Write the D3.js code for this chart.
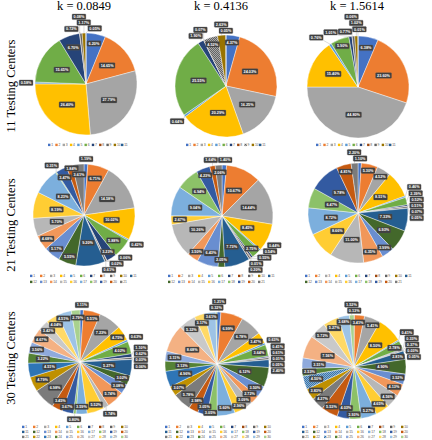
<!DOCTYPE html>
<html><head><meta charset="utf-8">
<script src="https://cdn.jsdelivr.net/npm/d3@7"></script>
<style>body{margin:0;background:#fff}svg{display:block}</style>
</head><body>
<svg id="c" width="432" height="440"></svg>
<script>
// ---------- data ----------
const kLabels = ["k = 0.0849", "k = 0.4136", "k = 1.5614"];
const rowLabels = ["11 Testing Centers", "21 Testing Centers", "30 Testing Centers"];

const centers11 = ["1","2","3","4","5","6","7","8","9","10","11"];
const centers21 = ["1","2","3","4","5","6","7","8","9","10","11","12","13","14","15","16","17","18","19","20","21"];
const centers30 = ["1","2","3","4","5","6","7","8","9","10","11","12","13","14","15","16","17","18","19","20","21","22","23","24","25","26","27","28","29","30"];

// share of demand per testing center (%)
const share11_k0849 = [6.20, 14.65, 27.79, 26.40, 0.58, 15.65, 6.70, 0.08, 0.72, 1.17, 0.05];
const share11_k4136 = [4.37, 24.03, 16.25, 20.29, 0.64, 25.55, 1.90, 0.07, 4.52, 2.63, 0.05];
const share11_k15614 = [6.38, 23.60, 44.80, 15.40, 0.76, 5.90, 1.01, 0.06, 0.77, 1.02, 0.01];

const share21_k0849 = [1.19, 6.71, 14.58, 10.02, 0.42, 5.88, 3.23, 0.06, 0.61, 0.02, 9.20, 5.55, 5.17, 4.68, 5.70, 8.19, 8.23, 0.31, 3.47, 1.84, 3.61];
const share21_k4136 = [1.40, 10.67, 14.44, 8.45, 0.44, 2.75, 0.54, 0.20, 0.55, 0.01, 7.73, 2.05, 6.43, 3.50, 10.26, 2.67, 9.04, 6.94, 4.23, 1.64, 2.06];
const share21_k15614 = [1.10, 5.30, 4.52, 8.51, 0.46, 2.39, 0.51, 0.05, 0.52, 0.07, 7.33, 6.93, 3.99, 6.35, 11.00, 8.66, 8.72, 6.47, 9.78, 4.81, 2.20];

const share30_k0849 = [1.11, 5.51, 7.23, 4.75, 0.63, 4.02, 1.10, 0.06, 0.62, 0.03, 5.27, 3.02, 3.08, 5.74, 1.74, 5.52, 3.59, 0.80, 3.67, 3.45, 6.98, 4.79, 4.51, 3.22, 3.56, 4.67, 3.42, 4.04, 4.51, 2.79];
const share30_k4136 = [1.21, 6.99, 6.78, 3.47, 0.63, 3.64, 0.41, 0.05, 0.61, 0.01, 2.40, 6.12, 3.50, 2.72, 3.09, 2.96, 5.60, 3.05, 3.05, 2.98, 5.78, 3.07, 4.96, 3.13, 3.11, 8.68, 5.32, 3.17, 3.61, 0.32];
const share30_k15614 = [0.13, 3.41, 5.41, 8.50, 0.41, 2.78, 0.33, 0.05, 0.37, 0.03, 2.81, 4.90, 3.52, 4.13, 4.56, 4.65, 5.27, 3.93, 4.03, 5.53, 4.27, 3.83, 4.50, 2.53, 3.51, 7.56, 5.72, 5.27, 3.68, 1.52];

// ---------- styling / layout ----------
const palette = ["#4472C4","#ED7D31","#A5A5A5","#FFC000","#5B9BD5","#70AD47","#264478","#9E480E","#636363","#997300",
  "#255E91","#43682B","#698ED0","#F1975A","#B7B7B7","#FFCD33","#7CAFDD","#8CC168","#335AA1","#C55A11",
  "#7B7B7B","#BF9000","#2E75B6","#548235","#8FAADC","#F4B183","#C9C9C9","#FFD966","#9DC3E6","#A9D18E"];

const charts = [
  {cats: centers11, vals: share11_k0849,  cx: 86,  cy: 84,  r: 51, thr: 1.9, dotted: []},
  {cats: centers11, vals: share11_k4136,  cx: 226, cy: 86,  r: 51, thr: 3.0, dotted: [8]},
  {cats: centers11, vals: share11_k15614, cx: 358, cy: 87,  r: 51, thr: 3.0, dotted: []},
  {cats: centers21, vals: share21_k0849,  cx: 84,  cy: 215, r: 51, thr: 1.5, dotted: []},
  {cats: centers21, vals: share21_k4136,  cx: 222, cy: 216, r: 51, thr: 1.9, dotted: []},
  {cats: centers21, vals: share21_k15614, cx: 358, cy: 213, r: 50, thr: 2.5, dotted: []},
  {cats: centers30, vals: share30_k0849,  cx: 80,  cy: 362, r: 52, thr: 2.0, dotted: []},
  {cats: centers30, vals: share30_k4136,  cx: 217, cy: 364, r: 52, thr: 2.5, dotted: []},
  {cats: centers30, vals: share30_k15614, cx: 354, cy: 367, r: 52, thr: 2.0, dotted: [22]}
];
const legendLayout = [
  {x: 48,  y: 145, per: 11, dx: 7.3, dy: 6},
  {x: 186, y: 145, per: 11, dx: 7.3, dy: 6},
  {x: 316, y: 145, per: 11, dx: 7.3, dy: 6},
  {x: 30,  y: 276, per: 11, dx: 10,  dy: 6},
  {x: 168, y: 276, per: 11, dx: 10,  dy: 6},
  {x: 305, y: 276, per: 11, dx: 10,  dy: 6},
  {x: 22,  y: 427, per: 10, dx: 11,  dy: 5},
  {x: 165, y: 427, per: 10, dx: 11,  dy: 5},
  {x: 302, y: 427, per: 10, dx: 11,  dy: 5}
];

const svg = d3.select("#c");
const defs = svg.append("defs");
function dotPattern(id, base) {
  const p = defs.append("pattern").attr("id", id).attr("patternUnits", "userSpaceOnUse")
    .attr("width", 2).attr("height", 2);
  p.append("rect").attr("width", 2).attr("height", 2).attr("fill", base);
  p.append("rect").attr("x", 0).attr("y", 0).attr("width", 0.8).attr("height", 0.8).attr("fill", "#d0d0d0");
  p.append("rect").attr("x", 1).attr("y", 1).attr("width", 0.8).attr("height", 0.8).attr("fill", "#d0d0d0");
}

// titles
const colX = [84, 221, 357];
svg.selectAll("text.klab").data(kLabels).join("text")
  .attr("x", (d, i) => colX[i]).attr("y", 10)
  .attr("text-anchor", "middle")
  .attr("font-family", "'Liberation Serif', 'DejaVu Serif', serif")
  .attr("font-size", 12.5).attr("fill", "#000").text(d => d);

const rowY = [86, 225, 358];
svg.selectAll("text.rlab").data(rowLabels).join("text")
  .attr("transform", (d, i) => `translate(15,${rowY[i]}) rotate(-90)`)
  .attr("text-anchor", "middle")
  .attr("font-family", "'Liberation Serif', 'DejaVu Serif', serif")
  .attr("font-size", 12.5).attr("fill", "#000").text(d => d);

const pieGen = d3.pie().sort(null).value(d => d.v);
const clamp = (v, a, b) => Math.max(a, Math.min(b, v));

charts.forEach((ch, ci) => {
  const rows = ch.cats.map((c, i) => ({cat: c, v: ch.vals[i], i}));
  const arcs = pieGen(rows);
  const arc = d3.arc().innerRadius(0).outerRadius(ch.r);
  const lg = legendLayout[ci];
  ch.dotted.forEach(k => dotPattern(`dot${ci}_${k}`, palette[k]));
  const g = svg.append("g");
  g.append("g").attr("transform", `translate(${ch.cx},${ch.cy})`)
    .selectAll("path").data(arcs).join("path")
    .attr("d", arc)
    .attr("fill", d => ch.dotted.includes(d.data.i) ? `url(#dot${ci}_${d.data.i})` : palette[d.data.i])
    .attr("stroke", "#fff").attr("stroke-width", 0.4);

  // labels
  const lineG = g.append("g");
  const labG = g.append("g");
  const labels = arcs.map(a => {
    const grp = labG.append("g");
    const t = grp.append("text").text(a.data.v.toFixed(2) + "%")
      .attr("font-family", "Arial, 'Liberation Sans', sans-serif")
      .attr("font-weight", "bold").attr("font-size", 3.8).attr("fill", "#fff")
      .attr("text-anchor", "middle").attr("dy", "0.35em");
    const w = t.node().getComputedTextLength() + 3, h = 5.6;
    const mid = (a.startAngle + a.endAngle) / 2, span = a.endAngle - a.startAngle;
    const sx = Math.sin(mid), sy = -Math.cos(mid);
    let x, y, out;
    if (a.data.v >= ch.thr) {
      const ext = w * Math.abs(Math.cos(mid)) + h * Math.abs(Math.sin(mid));
      const rl = clamp(ext * 1.1 / span, 0.55 * ch.r, 0.86 * ch.r);
      x = ch.cx + sx * rl; y = ch.cy + sy * rl; out = false;
    } else {
      const ext = w * Math.abs(sx) + h * Math.abs(sy);
      const rl = ch.r + 2 + ext / 2;
      x = ch.cx + sx * rl; y = ch.cy + sy * rl; out = true;
    }
    return {grp, t, w, h, x, y, out, sx, sy};
  });
  const maxY = lg.y - 3.2;
  // relax labels: outside ones move freely, inside ones move a little
  for (let it = 0; it < 400; it++) {
    let moved = false;
    for (let ia = 0; ia < labels.length; ia++) {
      for (let ib = ia + 1; ib < labels.length; ib++) {
        const A = labels[ia], B = labels[ib];
        const dx = A.x - B.x, dy = A.y - B.y;
        const ox = (A.w + B.w) / 2 + 0.6 - Math.abs(dx);
        const oy = (A.h + B.h) / 2 + 0.6 - Math.abs(dy);
        if (ox > 0 && oy > 0) {
          moved = true;
          const wa = A.out ? 1 : 0.25, wb = B.out ? 1 : 0.25;
          const fa = wa / (wa + wb), fb = wb / (wa + wb);
          if (oy <= ox) {
            const s = (dy === 0 ? -1 : Math.sign(dy)) * oy;
            A.y += s * fa; B.y -= s * fb;
          } else {
            const s = (dx === 0 ? -1 : Math.sign(dx)) * ox;
            A.x += s * fa; B.x -= s * fb;
          }
        }
      }
    }
    labels.forEach(A => {
      if (A.out) {
        const rx = A.x - ch.cx, ry = A.y - ch.cy;
        const d = Math.hypot(rx, ry) || 1;
        const need = ch.r + 1.5 + (A.w * Math.abs(rx / d) + A.h * Math.abs(ry / d)) / 2;
        if (d < need) { A.x = ch.cx + rx / d * need; A.y = ch.cy + ry / d * need; }
      }
      A.x = clamp(A.x, A.w / 2 + 1, 432 - A.w / 2 - 1);
      A.y = clamp(A.y, 14 + A.h / 2, maxY - A.h / 2);
    });
    if (!moved) break;
  }
  labels.forEach(L => {
    L.grp.attr("transform", `translate(${L.x},${L.y})`);
    L.grp.insert("rect", "text").attr("x", -L.w / 2).attr("y", -L.h / 2)
      .attr("width", L.w).attr("height", L.h).attr("rx", 0.8)
      .attr("fill", "#404040").attr("stroke", "#595959").attr("stroke-width", 0.3);
    if (L.out) {
      const px = ch.cx + L.sx * ch.r, py = ch.cy + L.sy * ch.r;
      const qx = clamp(px, L.x - L.w / 2, L.x + L.w / 2), qy = clamp(py, L.y - L.h / 2, L.y + L.h / 2);
      if (Math.hypot(qx - px, qy - py) > 2.5)
        lineG.append("line").attr("x1", px).attr("y1", py).attr("x2", qx).attr("y2", qy)
          .attr("stroke", "#A6A6A6").attr("stroke-width", 0.4);
    }
  });

  // legend
  const leg = g.append("g");
  ch.cats.forEach((c, i) => {
    const col = i % lg.per, row = Math.floor(i / lg.per);
    const x = lg.x + col * lg.dx, y = lg.y + row * lg.dy;
    leg.append("rect").attr("x", x).attr("y", y - 1.3).attr("width", 2.4).attr("height", 2.4)
      .attr("fill", ch.dotted.includes(i) ? `url(#dot${ci}_${i})` : palette[i]);
    leg.append("text").attr("x", x + 3.2).attr("y", y + 1.1).text(c)
      .attr("font-family", "Arial, 'Liberation Sans', sans-serif")
      .attr("font-size", 3.4).attr("fill", "#595959");
  });
});
</script>
</body></html>
